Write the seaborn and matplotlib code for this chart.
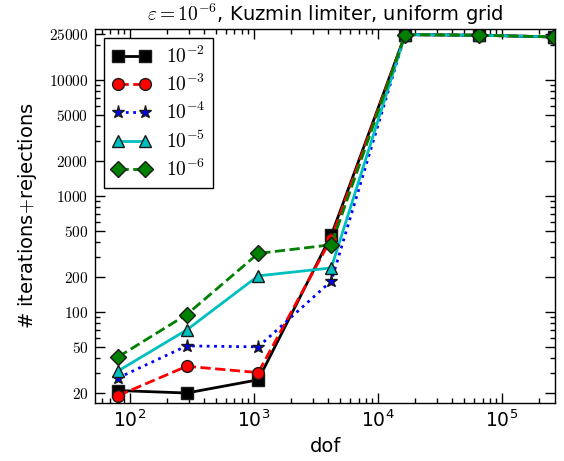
import matplotlib
matplotlib.use("Agg")
import matplotlib.pyplot as plt
import seaborn as sns
from matplotlib.ticker import FixedLocator, LogLocator, NullFormatter

# Degrees of freedom on the successively refined uniform grids
dof = [81, 289, 1089, 4225, 16641, 66049, 263169]

# Tolerance labels for each curve
tol_labels = [r"$10^{-2}$", r"$10^{-3}$", r"$10^{-4}$", r"$10^{-5}$", r"$10^{-6}$"]

# Number of iterations + rejections per tolerance
iters_tol2 = [21, 20, 26, 460, 24700, 24400, 23600]
iters_tol3 = [19, 34, 30, 430, 24700, 24400, 23600]
iters_tol4 = [27, 51, 50, 185, 24700, 24400, 23600]
iters_tol5 = [31, 70, 205, 240, 24700, 24400, 23600]
iters_tol6 = [41, 95, 320, 380, 24700, 24400, 23600]

# Axis tick values and labels
x_ticks = [1e2, 1e3, 1e4, 1e5]
x_tick_labels = [r"$10^{2}$", r"$10^{3}$", r"$10^{4}$", r"$10^{5}$"]
y_ticks = [20, 50, 100, 200, 500, 1000, 2000, 5000, 10000, 25000]
y_tick_labels = [r"$%d$" % v for v in y_ticks]

sns.set_theme(style="ticks", rc={
    "xtick.direction": "in", "ytick.direction": "in",
    "xtick.top": True, "ytick.right": True,
    "axes.edgecolor": "black", "axes.linewidth": 1.0,
    "text.color": "black", "axes.labelcolor": "black",
    "xtick.color": "black", "ytick.color": "black",
})
plt.rcParams["font.family"] = ["DejaVu Sans"]
plt.rcParams["mathtext.fontset"] = "cm"

fig = plt.figure(figsize=(5.64, 4.61), dpi=100)
ax = fig.add_axes([0.169, 0.1265, 0.815, 0.8105])

series = [iters_tol2, iters_tol3, iters_tol4, iters_tol5, iters_tol6]
styles = [
    dict(color="#000000", linestyle="-", marker="s", markersize=8.5),
    dict(color="#ff0000", linestyle="--", marker="o", markersize=8.5),
    dict(color="#0000ff", linestyle=":", marker="*", markersize=9.5),
    dict(color="#00bfbf", linestyle="-", marker="^", markersize=9),
    dict(color="#008000", linestyle="--", marker="D", markersize=8.5),
]
for vals, lab, st in zip(series, tol_labels, styles):
    sns.lineplot(x=dof, y=vals, ax=ax, label=lab, linewidth=2,
                 markeredgecolor="k", markeredgewidth=1.0, sort=False, **st)

ax.set_xscale("log")
ax.set_yscale("log")
ax.set_xlim(53, 268000)
ax.set_ylim(16.5, 27600)

ax.xaxis.set_major_locator(FixedLocator(x_ticks))
ax.set_xticklabels(x_tick_labels, math_fontfamily="dejavusans", fontsize=13.5)
ax.xaxis.set_minor_locator(LogLocator(base=10, subs=range(2, 10)))
ax.xaxis.set_minor_formatter(NullFormatter())

ax.yaxis.set_major_locator(FixedLocator(y_ticks))
ax.set_yticklabels(y_tick_labels, fontsize=11)
ax.yaxis.set_minor_locator(LogLocator(base=10, subs=range(2, 10)))
ax.yaxis.set_minor_formatter(NullFormatter())

ax.tick_params(which="major", length=7, width=1, top=True, right=True, pad=5)
ax.tick_params(which="minor", length=3.5, width=1, top=True, right=True)

ax.set_xlabel("dof", fontsize=14)
ax.set_ylabel(r"# iterations$+$rejections", fontsize=14, labelpad=7)
ax.set_title(r"$\varepsilon=10^{-6}$, Kuzmin limiter, uniform grid", fontsize=14)

ax.legend(loc="upper left", numpoints=2, fontsize=14, fancybox=False,
          edgecolor="black", framealpha=1, borderaxespad=0.45,
          labelspacing=0.36)
ax.get_legend().get_frame().set_linewidth(1.0)

fig.savefig("out.png", dpi=100, facecolor="white")
